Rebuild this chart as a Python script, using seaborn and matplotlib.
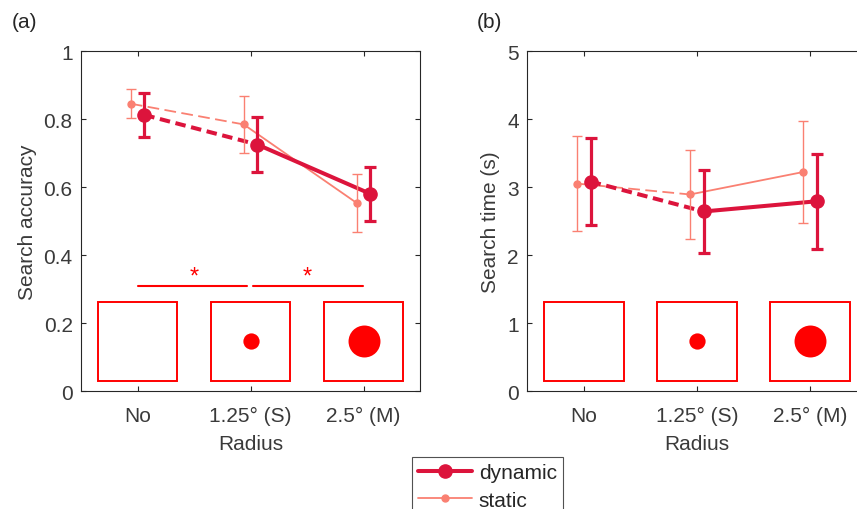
import numpy as np
import pandas as pd
import matplotlib
matplotlib.use("Agg")
import matplotlib.pyplot as plt
from matplotlib.patches import Rectangle
from matplotlib.lines import Line2D
import seaborn as sns

# ---------------- data ----------------
radius_labels = ["No", "1.25\u00b0 (S)", "2.5\u00b0 (M)"]
positions = [1, 2, 3]

acc_dynamic = [0.812, 0.725, 0.580]
acc_dynamic_err = [0.065, 0.081, 0.080]
acc_static = [0.845, 0.784, 0.553]
acc_static_err = [0.043, 0.084, 0.084]

rt_dynamic = [3.08, 2.64, 2.79]
rt_dynamic_err = [0.645, 0.605, 0.70]
rt_static = [3.05, 2.89, 3.22]
rt_static_err = [0.695, 0.65, 0.745]

stim_marker_pt = [0, 11.7, 23.0]   # stimulus disc diameters (pt) drawn in the insets

# ---------------- style ----------------
sns.set_style("ticks")
plt.rcParams["font.family"] = ["Liberation Sans", "DejaVu Sans"]
AX = "#262626"
plt.rcParams.update({
    "axes.edgecolor": AX, "axes.linewidth": 0.8,
    "xtick.color": AX, "ytick.color": AX,
    "xtick.labelcolor": "#3a3a3a", "ytick.labelcolor": "#3a3a3a",
    "axes.labelcolor": "#3a3a3a", "text.color": "#262626",
    "xtick.direction": "in", "ytick.direction": "in",
    "xtick.major.size": 3.5, "ytick.major.size": 3.5,
    "xtick.top": True, "ytick.right": True,
})

C_DYN = "#DC143C"
C_STA = "#FA8072"
RED = "#FF0000"
W, H = 857, 510
FS = 15

fig = plt.figure(figsize=(W / 100, H / 100), dpi=100)
axA = fig.add_axes([81 / W, 1 - 392 / H, 339 / W, 340 / H])
axB = fig.add_axes([527.3 / W, 1 - 392 / H, 339 / W, 340 / H])

styles = {
    "static": dict(color=C_STA, lw=1.3, ms=5.0, elw=1.0, cap=3.8, off=-0.06,
                   dash=(0, (6.5, 3.0))),
    "dynamic": dict(color=C_DYN, lw=2.9, ms=9.5, elw=2.3, cap=4.5, off=0.06,
                    dash=(0, (2.6, 1.4))),
}


def draw_series(ax, name, vals, errs):
    st = styles[name]
    xs = [p + st["off"] for p in positions]
    df = pd.DataFrame({"x": xs, "y": vals})
    # first segment dashed, second solid
    sns.lineplot(data=df.iloc[0:2], x="x", y="y", ax=ax, color=st["color"],
                 lw=st["lw"], linestyle=st["dash"], sort=False, errorbar=None,
                 zorder=3)
    sns.lineplot(data=df.iloc[1:3], x="x", y="y", ax=ax, color=st["color"],
                 lw=st["lw"], linestyle="-", sort=False, errorbar=None,
                 zorder=3)
    ax.errorbar(xs, vals, yerr=errs, fmt="none", ecolor=st["color"],
                elinewidth=st["elw"], capsize=st["cap"], capthick=st["elw"],
                zorder=4)
    ax.plot(xs, vals, ls="none", marker="o", ms=st["ms"], color=st["color"],
            mec=st["color"], zorder=5)


def draw_insets(ax, y0, y1, yc):
    for p, d in zip(positions, stim_marker_pt):
        ax.add_patch(Rectangle((p - 0.353, y0), 0.706, y1 - y0, fill=False,
                               ec=RED, lw=1.4, zorder=2))
        if d > 0:
            ax.plot([p], [yc], ls="none", marker="o", ms=d, color=RED,
                    mec=RED, mew=0, zorder=2)


# ---- panel (a)
draw_series(axA, "static", acc_static, acc_static_err)
draw_series(axA, "dynamic", acc_dynamic, acc_dynamic_err)
draw_insets(axA, 0.030, 0.263, 0.1465)
axA.plot([1.0, 1.966], [0.31, 0.31], color=RED, lw=1.5, zorder=2)
axA.plot([2.022, 2.995], [0.31, 0.31], color=RED, lw=1.5, zorder=2)
for xs in (1.5, 2.5):
    axA.text(xs, 0.338, "*", color=RED, fontsize=17, ha="center", va="center")
axA.set_ylim(0, 1)
axA.set_yticks([0, 0.2, 0.4, 0.6, 0.8, 1.0])
axA.set_yticklabels(["0", "0.2", "0.4", "0.6", "0.8", "1"])
axA.set_ylabel("Search accuracy", fontsize=FS, labelpad=5)

# ---- panel (b)
draw_series(axB, "static", rt_static, rt_static_err)
draw_series(axB, "dynamic", rt_dynamic, rt_dynamic_err)
draw_insets(axB, 0.147, 1.313, 0.73)
axB.set_ylim(0, 5)
axB.set_yticks([0, 1, 2, 3, 4, 5])
axB.set_ylabel("Search time (s)", fontsize=FS, labelpad=5)

for ax in (axA, axB):
    ax.set_xlim(0.5, 3.5)
    ax.set_xticks(positions)
    ax.set_xticklabels(radius_labels)
    ax.set_xlabel("Radius", fontsize=FS, labelpad=6)
    ax.tick_params(axis="x", labelsize=FS, pad=11)
    ax.tick_params(axis="y", labelsize=FS, pad=6)
    for s in ax.spines.values():
        s.set_visible(True)
        s.set_color(AX)

fig.text(12 / W, 1 - 23 / H, "(a)", fontsize=FS, va="center", ha="left")
fig.text(477 / W, 1 - 23 / H, "(b)", fontsize=FS, va="center", ha="left")

handles = [
    Line2D([], [], color=C_DYN, lw=2.9, marker="o", ms=9.5),
    Line2D([], [], color=C_STA, lw=1.3, marker="o", ms=5.0),
]
leg = fig.legend(handles, ["dynamic", "static"], loc="upper left",
                 bbox_to_anchor=(412 / W, 1 - 458 / H), fontsize=FS,
                 frameon=True, fancybox=False, handlelength=2.6,
                 handletextpad=0.3, borderpad=0.3, labelspacing=0.4,
                 borderaxespad=0)
leg.get_frame().set_edgecolor(AX)
leg.get_frame().set_linewidth(0.8)

fig.savefig("out.png", dpi=100)
